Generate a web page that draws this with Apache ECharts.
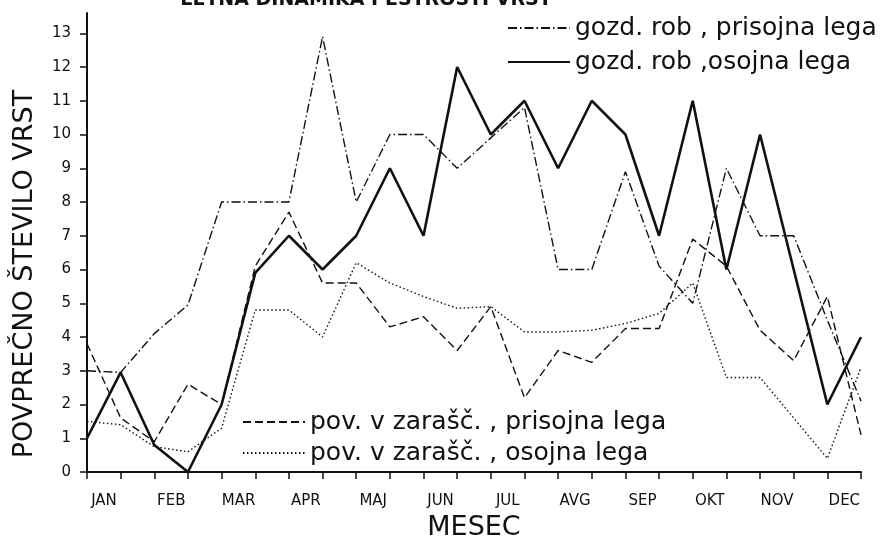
<!DOCTYPE html>
<html>
<head>
<meta charset="utf-8">
<title>Povprečno število vrst po mesecih</title>
<script src="https://cdn.jsdelivr.net/npm/echarts@6/dist/echarts.min.js"></script>
<style>
  html, body { margin: 0; padding: 0; background: #fff; }
  #chart { width: 893px; height: 542px; }
</style>
</head>
<body>
<div id="chart"></div>
<script>
// meseci (vsak mesec ima dve točki: prva in druga polovica)
const months = ['JAN', 'FEB', 'MAR', 'APR', 'MAJ', 'JUN', 'JUL', 'AVG', 'SEP', 'OKT', 'NOV', 'DEC'];
const halfMonths = months.flatMap(m => [m + ' I', m + ' II']);

const seriesNames = [
    'gozd. rob , prisojna lega',
    'gozd. rob ,osojna lega',
    'pov. v zarašč. , prisojna lega',
    'pov. v zarašč. , osojna lega'
];

// odčitane vrednosti
const gozdPrisojna = [3, 2.95, 4.1, 4.95, 8, 8, 8, 12.9, 8, 10, 10, 9, 9.9, 10.8, 6, 6, 8.9, 6.1, 5.0, 9, 7, 7, 4.5, 2.1];
const gozdOsojna   = [1, 2.95, 0.8, 0, 2, 5.9, 7, 6, 7, 9, 7, 12, 10, 11, 9, 11, 10, 7, 11, 6, 10, 6, 2, 4];
const povPrisojna  = [3.8, 1.6, 0.9, 2.6, 2.0, 6.1, 7.7, 5.6, 5.6, 4.3, 4.6, 3.6, 4.9, 2.2, 3.6, 3.25, 4.25, 4.25, 6.9, 6.1, 4.2, 3.3, 5.2, 1.1];
const povOsojna    = [1.5, 1.4, 0.75, 0.6, 1.3, 4.8, 4.8, 4.0, 6.2, 5.6, 5.2, 4.85, 4.9, 4.15, 4.15, 4.2, 4.4, 4.7, 5.6, 2.8, 2.8, 1.6, 0.4, 3.1];

const ink = '#111';
const font = 'DejaVu Sans';

const chart = echarts.init(document.getElementById('chart'));

function line(name, data, width, type) {
    return {
        name: name,
        type: 'line',
        data: data,
        symbol: 'none',
        lineStyle: { color: ink, width: width, type: type },
        itemStyle: { color: ink },
        emphasis: { disabled: true }
    };
}

// legenda brez simbolov, samo črta
const legendBase = {
    orient: 'vertical',
    padding: 0,
    itemWidth: 62, itemHeight: 14,
    selectedMode: false,
    itemStyle: { opacity: 0 },
    textStyle: { fontSize: 25, lineHeight: 28, color: ink, fontFamily: font }
};

chart.setOption({
    animation: false,
    backgroundColor: '#fff',
    textStyle: { fontFamily: font, color: ink },
    grid: { left: 87, right: 32, top: 13, bottom: 70, outerBoundsMode: 'none' },
    graphic: [
        { // naslov, na skenu odrezan
            type: 'text',
            style: {
                text: 'LETNA DINAMIKA PESTROSTI VRST',
                x: 366, y: 10,
                align: 'center', verticalAlign: 'bottom',
                font: 'bold 19px ' + font, fill: ink
            }
        },
        {
            type: 'text',
            rotation: Math.PI / 2,
            x: 25, y: 274,
            style: {
                text: 'POVPREČNO ŠTEVILO VRST',
                align: 'center', verticalAlign: 'middle',
                font: '27px ' + font, fill: ink
            }
        }
    ],
    legend: [
        Object.assign({}, legendBase, { data: seriesNames.slice(0, 2), left: 507, top: 14, itemGap: 6 }),
        Object.assign({}, legendBase, { data: seriesNames.slice(2), left: 242, top: 408, itemGap: 3 })
    ],
    xAxis: {
        type: 'category',
        data: halfMonths,
        boundaryGap: false,
        name: 'MESEC',
        nameLocation: 'middle',
        nameGap: 42,
        nameTextStyle: { fontSize: 27, color: ink },
        axisLine: { lineStyle: { color: ink, width: 2 } },
        axisTick: { interval: 0, length: 7, lineStyle: { color: ink, width: 1.5 } },
        axisLabel: {
            interval: i => i % 2 === 0,
            formatter: (v, i) => months[Math.floor(i / 2)],
            padding: [0, 0, 0, 34],
            margin: 22,
            fontSize: 15,
            color: ink
        },
        splitLine: { show: false }
    },
    yAxis: {
        type: 'value',
        min: 0,
        max: 13.6,
        interval: 1,
        axisLine: { show: true, lineStyle: { color: ink, width: 2 } },
        axisTick: { show: true, length: 7, lineStyle: { color: ink, width: 1.5 } },
        axisLabel: { showMaxLabel: false, margin: 16, fontSize: 15, color: ink },
        splitLine: { show: false }
    },
    series: [
        line(seriesNames[0], gozdPrisojna, 1.4, [9, 3, 1.5, 3]),
        line(seriesNames[1], gozdOsojna, 2.6, 'solid'),
        line(seriesNames[2], povPrisojna, 1.4, [8, 4]),
        line(seriesNames[3], povOsojna, 1.4, [1.5, 2.5])
    ]
});
</script>
</body>
</html>
